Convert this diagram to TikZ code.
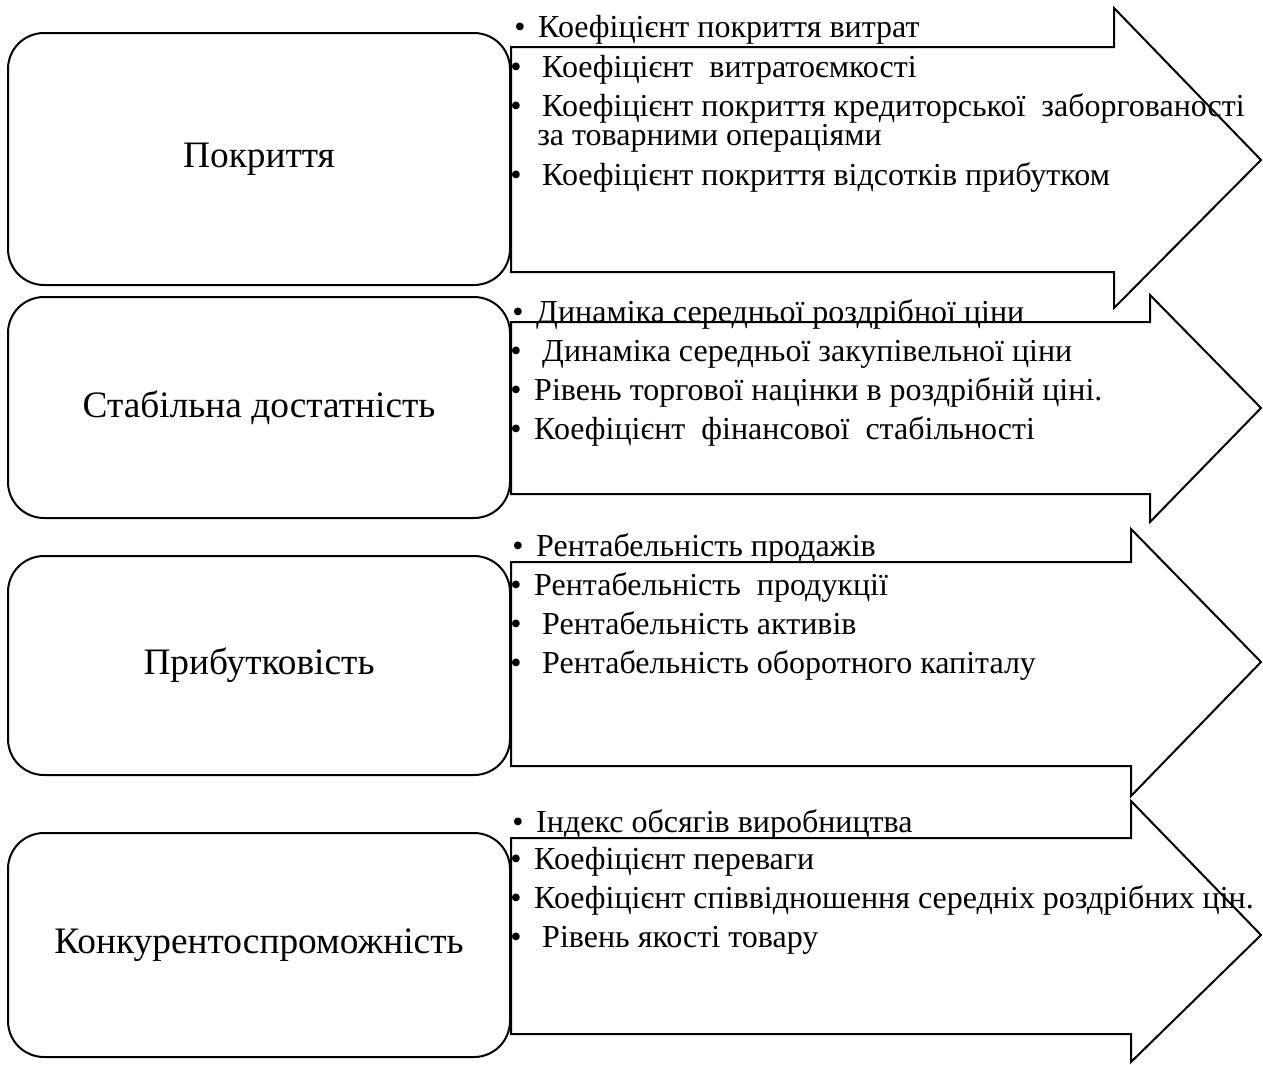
\documentclass[tikz,border=0pt]{standalone}
\usepackage{fontspec}
\setmainfont{Liberation Serif}
\usetikzlibrary{positioning}

\tikzset{
  labelbox/.style={draw, line width=1.5pt, rounded corners=27pt, fill=white,
    minimum width=376.5pt, font=\fontsize{28}{32}\selectfont},
  bigarrow/.style={draw, line width=1.5pt, fill=white, line join=miter},
  itemline/.style={anchor=base west, inner sep=0pt, font=\fontsize{24}{28}\selectfont}
}
\newcommand{\bul}{\textbullet\hspace{0.4em}}

\begin{document}
\begin{tikzpicture}[x=0.75pt, y=-0.75pt]
  \useasboundingbox (0,0) rectangle (1263,1064);

  % Left boxes
  \node[labelbox, minimum height=189pt]    (pokryttia)  at (259,159)   {Покриття};
  \node[labelbox, minimum height=165.75pt] (stabilna)   at (259,407.5) {Стабільна достатність};
  \node[labelbox, minimum height=164.25pt] (prybutok)   at (259,665.5) {Прибутковість};
  \node[labelbox, minimum height=168pt]    (konkurent)  at (259,945)   {Конкурентоспроможність};

  % Block arrows
  \draw[bigarrow] (511,47) -- (1114,47) -- (1114,8) -- (1261,160) -- (1114,308) -- (1114,272) -- (511,272) -- cycle;
  \draw[bigarrow] (511,322) -- (1150,322) -- (1150,295) -- (1261,408) -- (1150,522) -- (1150,494) -- (511,494) -- cycle;
  \draw[bigarrow] (511,562) -- (1131,562) -- (1131,529) -- (1261,662) -- (1131,796) -- (1131,766) -- (511,766) -- cycle;
  \draw[bigarrow] (511,838) -- (1131,838) -- (1131,801) -- (1261,935) -- (1131,1062) -- (1131,1034) -- (511,1034) -- cycle;

  % Indicators: coverage
  \node[itemline] (p1) at (514,37)  {\bul Коефіцієнт\ покриття\ витрат};
  \node[itemline] (p2) at (510,77)  {\bul\ Коефіцієнт\ \ витратоємкості};
  \node[itemline] (p3) at (510,116) {\bul\ Коефіцієнт покриття кредиторської\ \ заборгованості};
  \node[itemline] (p4) at (537,145) {за товарними операціями};
  \node[itemline] (p5) at (510,185) {\bul\ Коефіцієнт покриття відсотків прибутком};

  % Indicators: stable sufficiency
  \node[itemline] (s1) at (512,322) {\bul Динаміка середньої роздрібної ціни};
  \node[itemline] (s2) at (510,361) {\bul\ Динаміка середньої закупівельної ціни};
  \node[itemline] (s3) at (510,400) {\bul Рівень торгової націнки в роздрібній ціні.};
  \node[itemline] (s4) at (510,439) {\bul Коефіцієнт\ \ фінансової\ \ стабільності};

  % Indicators: profitability
  \node[itemline] (r1) at (512,556) {\bul Рентабельність продажів};
  \node[itemline] (r2) at (510,595) {\bul Рентабельність\ \ продукції};
  \node[itemline] (r3) at (510,634) {\bul\ Рентабельність активів};
  \node[itemline] (r4) at (510,673) {\bul\ Рентабельність оборотного капіталу};

  % Indicators: competitiveness
  \node[itemline] (k1) at (512,832) {\bul Індекс обсягів виробництва};
  \node[itemline] (k2) at (510,869) {\bul Коефіцієнт переваги};
  \node[itemline] (k3) at (510,908) {\bul Коефіцієнт співвідношення середніх роздрібних цін.};
  \node[itemline] (k4) at (510,947) {\bul\ Рівень якості товару};
\end{tikzpicture}
\end{document}
